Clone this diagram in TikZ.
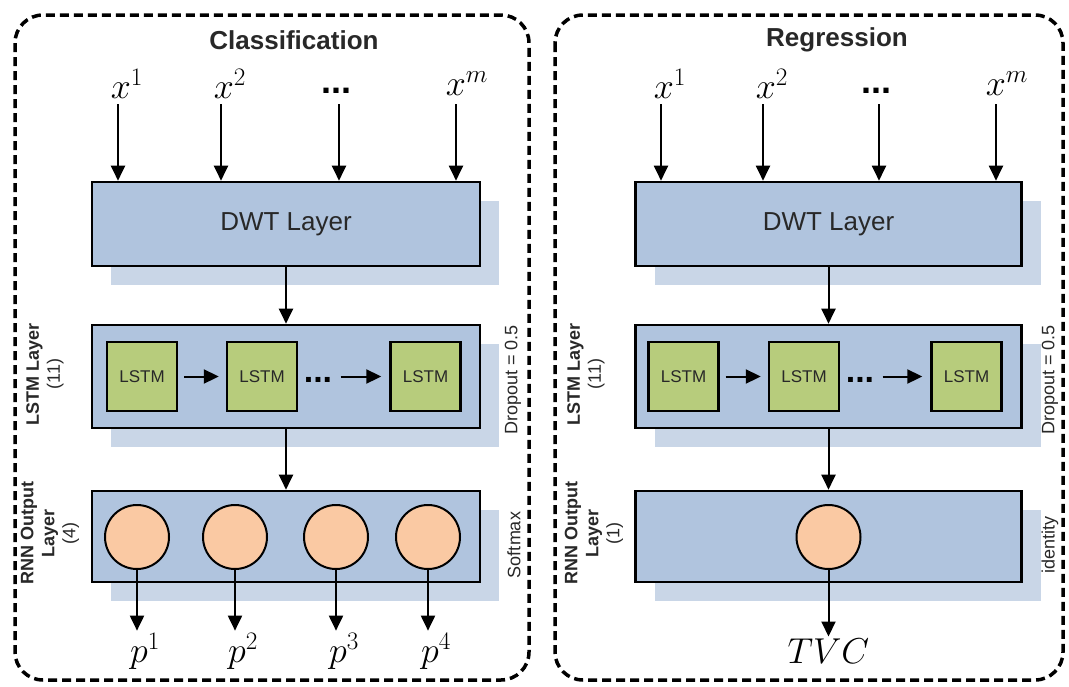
\RequirePackage{fix-cm}
\documentclass[tikz,border=0pt]{standalone}
\usepackage{fontspec}
\setmainfont{Liberation Sans}
\usepackage{amsmath}
\usetikzlibrary{arrows.meta, shadows, positioning}

\definecolor{layerblue}{RGB}{176,196,222}
\definecolor{shadowblue}{RGB}{201,214,231}
\definecolor{cellgreen}{RGB}{183,204,124}
\definecolor{unitpeach}{RGB}{250,201,163}
\definecolor{labelgray}{RGB}{40,40,40}

\tikzset{
  panel/.style={line width=3.5pt, dash pattern=on 9pt off 5pt, rounded corners=28pt},
  layerbox/.style={draw, line width=2.6pt, fill=layerblue, minimum width=388pt,
    inner sep=0pt, text=labelgray, font=\fontsize{26}{30}\selectfont,
    drop shadow={shadow xshift=19pt, shadow yshift=-19pt, fill=shadowblue, opacity=1}},
  cellbox/.style={draw, line width=2.4pt, fill=cellgreen, minimum width=70pt,
    minimum height=69pt, inner sep=0pt, text=labelgray, font=\fontsize{17}{20}\selectfont},
  unit/.style={circle, draw, line width=2pt, fill=unitpeach, minimum size=64pt, inner sep=0pt},
  sidelabel/.style={rotate=90, align=center, text=labelgray, font=\fontsize{18}{21}\selectfont},
  mathlabel/.style={font=\fontsize{36}{40}\selectfont, inner sep=2pt},
  dotlabel/.style={font=\fontsize{36}{40}\selectfont\bfseries},
  paneltitle/.style={font=\fontsize{26}{30}\selectfont\bfseries, text=labelgray},
  flow/.style={->, line width=2pt},
}

\begin{document}
\begin{tikzpicture}[x=1pt, y=-1pt, >={Triangle[length=15pt, width=14pt]}]
    \useasboundingbox (0,0) rectangle (1069,686);

    % 1. Classification
    \draw[panel] (15,15) rectangle (529,680);
    \node[paneltitle] (titleA) at (294,40) {Classification};

    \coordinate (inA1) at (118,104);
    \coordinate (inA2) at (221,104);
    \coordinate (inA3) at (339,104);
    \coordinate (inA4) at (456,104);
    \node[mathlabel] (xA1) at (127,84) {$x^1$};
    \node[mathlabel] (xA2) at (230,84) {$x^2$};
    \node[dotlabel] (xA3) at (336,91) {...};
    \node[mathlabel] (xA4) at (467,84) {$x^m$};

    \node[layerbox, minimum height=84pt] (dwtA) at (286,224) {DWT Layer};
    \draw[flow] (inA1) -- (inA1 |- dwtA.north);
    \draw[flow] (inA2) -- (inA2 |- dwtA.north);
    \draw[flow] (inA3) -- (inA3 |- dwtA.north);
    \draw[flow] (inA4) -- (inA4 |- dwtA.north);

    \node[layerbox, minimum height=103pt] (lstmA) at (286,376.5) {};
    \node[cellbox] (cA1) at (142,376.5) {LSTM};
    \node[cellbox] (cA2) at (262,376.5) {LSTM};
    \node[dotlabel, font=\fontsize{34}{38}\selectfont\bfseries] (cdA) at (318,380) {...};
    \node[cellbox] (cA3) at (425.5,376.5) {LSTM};
    \draw[flow, shorten <=6pt, shorten >=7pt] (cA1.east) -- (cA2.west);
    \draw[flow, shorten <=5pt, shorten >=8pt] (cA3.west -| cdA.east) -- (cA3.west);
    \draw[flow] (dwtA) -- (lstmA);

    \node[layerbox, minimum height=91pt] (rnnA) at (286,536.5) {};
    \draw[flow] (lstmA) -- (rnnA);
    \node[unit] (uA1) at (137,537) {};
    \node[unit] (uA2) at (235,537) {};
    \node[unit] (uA3) at (336,537) {};
    \node[unit] (uA4) at (428,537) {};

    \node[mathlabel] (pA1) at (145,651) {$p^1$};
    \node[mathlabel] (pA2) at (243,651) {$p^2$};
    \node[mathlabel] (pA3) at (344,651) {$p^3$};
    \node[mathlabel] (pA4) at (436,651) {$p^4$};
    \draw[flow] (uA1.south) -- (uA1 |- pA1.north);
    \draw[flow] (uA2.south) -- (uA2 |- pA2.north);
    \draw[flow] (uA3.south) -- (uA3 |- pA3.north);
    \draw[flow] (uA4.south) -- (uA4 |- pA4.north);

    \node[sidelabel] (sideA1) at (45,374) {\textbf{LSTM Layer}\\(11)};
    \node[sidelabel] (sideA2) at (50,533) {\textbf{RNN Output}\\\textbf{Layer}\\(4)};
    \node[sidelabel] (sideA3) at (513,380) {Dropout = 0.5};
    \node[sidelabel] (sideA4) at (514,545) {Softmax};

    % 2. Regression
    \draw[panel] (555,15) rectangle (1063,680);
    \node[paneltitle] (titleB) at (837,40) {Regression};

    \coordinate (inB1) at (661,104);
    \coordinate (inB2) at (763,104);
    \coordinate (inB3) at (879,104);
    \coordinate (inB4) at (996,104);
    \node[mathlabel] (xB1) at (670,84) {$x^1$};
    \node[mathlabel] (xB2) at (772,84) {$x^2$};
    \node[dotlabel] (xB3) at (876,91) {...};
    \node[mathlabel] (xB4) at (1007,84) {$x^m$};

    \node[layerbox, minimum width=386pt, minimum height=84pt] (dwtB) at (828.5,224) {DWT Layer};
    \draw[flow] (inB1) -- (inB1 |- dwtB.north);
    \draw[flow] (inB2) -- (inB2 |- dwtB.north);
    \draw[flow] (inB3) -- (inB3 |- dwtB.north);
    \draw[flow] (inB4) -- (inB4 |- dwtB.north);

    \node[layerbox, minimum width=386pt, minimum height=103pt] (lstmB) at (828.5,376.5) {};
    \node[cellbox] (cB1) at (683.5,376.5) {LSTM};
    \node[cellbox] (cB2) at (804,376.5) {LSTM};
    \node[dotlabel, font=\fontsize{34}{38}\selectfont\bfseries] (cdB) at (860,380) {...};
    \node[cellbox] (cB3) at (966.5,376.5) {LSTM};
    \draw[flow, shorten <=6pt, shorten >=7pt] (cB1.east) -- (cB2.west);
    \draw[flow, shorten <=5pt, shorten >=8pt] (cB3.west -| cdB.east) -- (cB3.west);
    \draw[flow] (dwtB) -- (lstmB);

    \node[layerbox, minimum width=386pt, minimum height=91pt] (rnnB) at (828.5,536.5) {};
    \draw[flow] (lstmB) -- (rnnB);
    \node[unit] (uB1) at (828.5,537) {};
    \node[mathlabel, font=\fontsize{36}{40}\selectfont] (tvcB) at (828.5,651) {$TVC$};
    \draw[flow] (uB1.south) -- (tvcB.north);

    \node[sidelabel] (sideB1) at (586,374) {\textbf{LSTM Layer}\\(11)};
    \node[sidelabel] (sideB2) at (594,533) {\textbf{RNN Output}\\\textbf{Layer}\\(1)};
    \node[sidelabel] (sideB3) at (1050,380) {Dropout = 0.5};
    \node[sidelabel] (sideB4) at (1050,545) {identity};
\end{tikzpicture}
\end{document}
